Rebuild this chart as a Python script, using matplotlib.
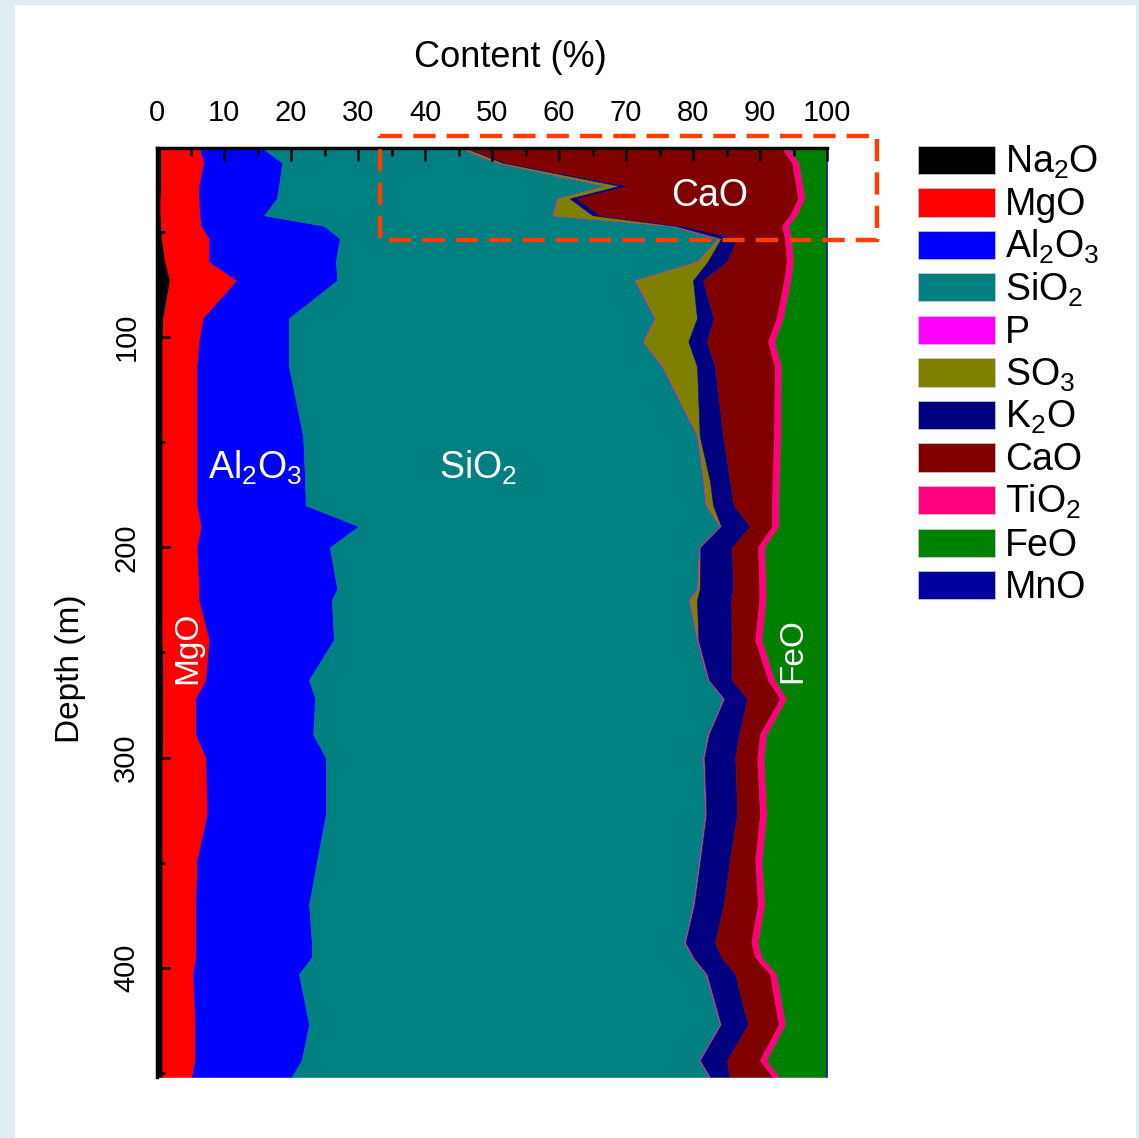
import numpy as np
import matplotlib
matplotlib.use('Agg')
from matplotlib import pyplot as plt
from matplotlib.patches import Rectangle

# depth of each sample (m)
depth = [10, 17, 28, 34, 42, 47, 53, 64, 73, 91, 102, 114, 147, 168, 180,
         190, 200, 220, 225, 244, 263, 272, 289, 300, 327, 349, 370, 388,
         395, 403, 427, 444, 452]

# oxide contents (%) at each depth
na2o = [0.6, 0.6, 0.6, 0.5, 0.5, 0.6, 0.7, 1.2, 1.9, 0.9, 0.8, 0.8, 0.8, 0.8,
        0.8, 0.8, 0.8, 0.8, 0.8, 0.8, 0.9, 0.9, 0.9, 0.8, 0.8, 0.8, 0.8, 0.8,
        0.8, 0.8, 0.8, 0.8, 0.8]
mgo = [5.8, 6.4, 5.7, 5.8, 5.9, 6.0, 7.1, 6.6, 10.0, 6.0, 5.5, 5.2, 5.2, 5.2,
       5.2, 5.8, 5.2, 5.5, 5.5, 7.0, 6.4, 4.9, 4.9, 6.5, 6.7, 5.2, 5.0, 5.0,
       5.0, 4.6, 4.9, 4.9, 4.4]
al2o3 = [9.3, 11.7, 11.9, 11.6, 9.6, 18.3, 19.5, 18.9, 15.0, 12.8, 13.4, 13.7,
         15.8, 16.1, 16.2, 23.5, 19.8, 20.6, 19.8, 18.6, 15.4, 17.8, 17.5,
         17.9, 17.7, 17.9, 16.9, 17.3, 17.3, 15.8, 17.0, 15.9, 14.9]
sio2 = [29.5, 32.0, 48.7, 41.8, 43.0, 51.7, 56.4, 53.9, 44.4, 54.6, 52.8, 55.7,
        58.8, 59.4, 59.7, 53.9, 55.1, 53.7, 53.3, 54.2, 59.5, 60.9, 58.9,
        56.3, 56.6, 57.0, 57.3, 55.6, 56.8, 60.7, 61.3, 59.3, 62.3]
p = [0.1] * 33
so3 = [0.8, 0.8, 2.0, 1.8, 5.9, 0.6, 0.4, 1.5, 8.6, 6.2, 6.7, 5.1, 0.3, 0.9,
       1.0, 0.1, 0.1, 0.3, 1.1, 0.1, 0.1, 0.1, 0.1, 0.1, 0.1, 0.1, 0.1, 0.1,
       0.1, 0.1, 0.1, 0.1, 0.1]
k2o = [0.3, 0.6, 1.3, 1.1, 1.1, 1.1, 2.4, 2.9, 1.5, 2.5, 2.8, 2.7, 3.5, 3.0,
       3.1, 4.3, 4.7, 5.0, 5.1, 5.0, 3.4, 3.4, 4.5, 4.6, 4.6, 4.4, 4.4, 4.4,
       4.2, 4.2, 4.0, 4.0, 2.8]
cao = [46.9, 42.6, 25.1, 33.0, 28.4, 14.9, 7.1, 8.9, 12.1, 9.4, 9.1, 8.9, 7.6,
       6.4, 5.7, 3.3, 3.9, 3.9, 4.2, 3.5, 5.4, 4.9, 3.1, 3.3, 3.4, 3.8, 5.1,
       5.4, 5.0, 5.2, 4.6, 4.9, 6.5]
tio2 = [1.0] * 33
feo = [5.5, 4.0, 3.4, 3.1, 4.3, 5.5, 5.1, 4.8, 5.2, 6.3, 7.6, 6.6, 6.7, 6.9,
       7.0, 7.0, 9.1, 8.9, 8.9, 9.5, 7.6, 5.8, 8.8, 9.2, 8.8, 9.5, 9.1, 10.1,
       9.5, 7.3, 6.0, 8.8, 6.9]
mno = [0.2] * 33

oxides = ['Na$_2$O', 'MgO', 'Al$_2$O$_3$', 'SiO$_2$', 'P', 'SO$_3$', 'K$_2$O',
          'CaO', 'TiO$_2$', 'FeO', 'MnO']
colors = ['#000000', '#FF0000', '#0000FF', '#008080', '#FF00FF', '#808000',
          '#000080', '#800000', '#FF0080', '#008000', '#00009F']

plt.rcParams['font.family'] = ['Liberation Sans', 'DejaVu Sans']
plt.rcParams['mathtext.default'] = 'regular'

W, H = 1139, 1138
fig = plt.figure(figsize=(W / 100, H / 100), dpi=100, facecolor='#dfeef1')
# white panel
fig.add_artist(Rectangle((15 / W, 0), (1136 - 15) / W, 1 - 5 / H,
                         transform=fig.transFigure, facecolor='white',
                         edgecolor='none', zorder=0))

ax = fig.add_axes([157 / W, 1 - 1077 / H, 670 / W, 929 / H])

layers = np.array([na2o, mgo, al2o3, sio2, p, so3, k2o, cao, tio2, feo, mno])
cum = np.cumsum(layers, axis=0)
left = np.zeros(len(depth))
for i in range(len(oxides)):
    ax.fill_betweenx(depth, left, cum[i], facecolor=colors[i],
                     edgecolor=colors[i], linewidth=0.4)
    left = cum[i]

ax.set_xlim(0, 100)
ax.set_ylim(depth[-1], depth[0])
ax.xaxis.tick_top()
ax.xaxis.set_label_position('top')
ax.set_xticks(np.arange(0, 101, 10))
ax.set_xticks(np.arange(5, 100, 10), minor=True)
ax.set_yticks([100, 200, 300, 400])
ax.set_yticks([50, 150, 250, 350, 450], minor=True)
ax.tick_params(axis='both', which='both', direction='in', width=1.8,
               labelsize=21)
ax.tick_params(axis='both', which='major', length=9)
ax.tick_params(axis='both', which='minor', length=6)
ax.tick_params(axis='x', pad=15)
ax.tick_params(axis='y', pad=12)
for lab in ax.get_yticklabels():
    lab.set_rotation(90)
    lab.set_va('center')
ax.set_xlabel('Content (%)', fontsize=26)
ax.xaxis.set_label_coords(0.527, 1.087)
ax.set_ylabel('Depth (m)', fontsize=24)
ax.yaxis.set_label_coords(-0.106, 0.44)
for s in ['top', 'left']:
    ax.spines[s].set_linewidth(2.5)
for s in ['bottom', 'right']:
    ax.spines[s].set_visible(False)

# in-chart labels
ax.text(82.5, 33, 'CaO', color='white', fontsize=27, ha='center',
        va='center')
ax.text(14.6, 162, 'Al$_2$O$_3$', color='white', fontsize=27, ha='center',
        va='center')
ax.text(47.9, 162, 'SiO$_2$', color='white', fontsize=27, ha='center',
        va='center')
ax.text(4.6, 248, 'MgO', color='white', fontsize=24, ha='center',
        va='center', rotation=90)
ax.text(94.9, 249, 'FeO', color='white', fontsize=24, ha='center',
        va='center', rotation=90)

# dashed highlight box around the CaO-rich top section
ax.add_patch(Rectangle((33.3, 4.3), 107.5 - 33.3, 53.8 - 4.3, fill=False,
                       edgecolor='#FF3D00', linewidth=3.2,
                       linestyle=(0, (5, 2.5)), clip_on=False, zorder=5))

# legend drawn by hand
for i, name in enumerate(oxides):
    yc = 160 + 42.5 * i
    fig.add_artist(Rectangle((918 / W, 1 - (yc + 14) / H), 77 / W, 28 / H,
                             transform=fig.transFigure,
                             facecolor=colors[i], edgecolor='#cccccc',
                             linewidth=0.5))
    fig.text(1005 / W, 1 - (yc + 13) / H, name, fontsize=27,
             va='baseline', ha='left')

fig.savefig('out.png', dpi=100, facecolor=fig.get_facecolor())
